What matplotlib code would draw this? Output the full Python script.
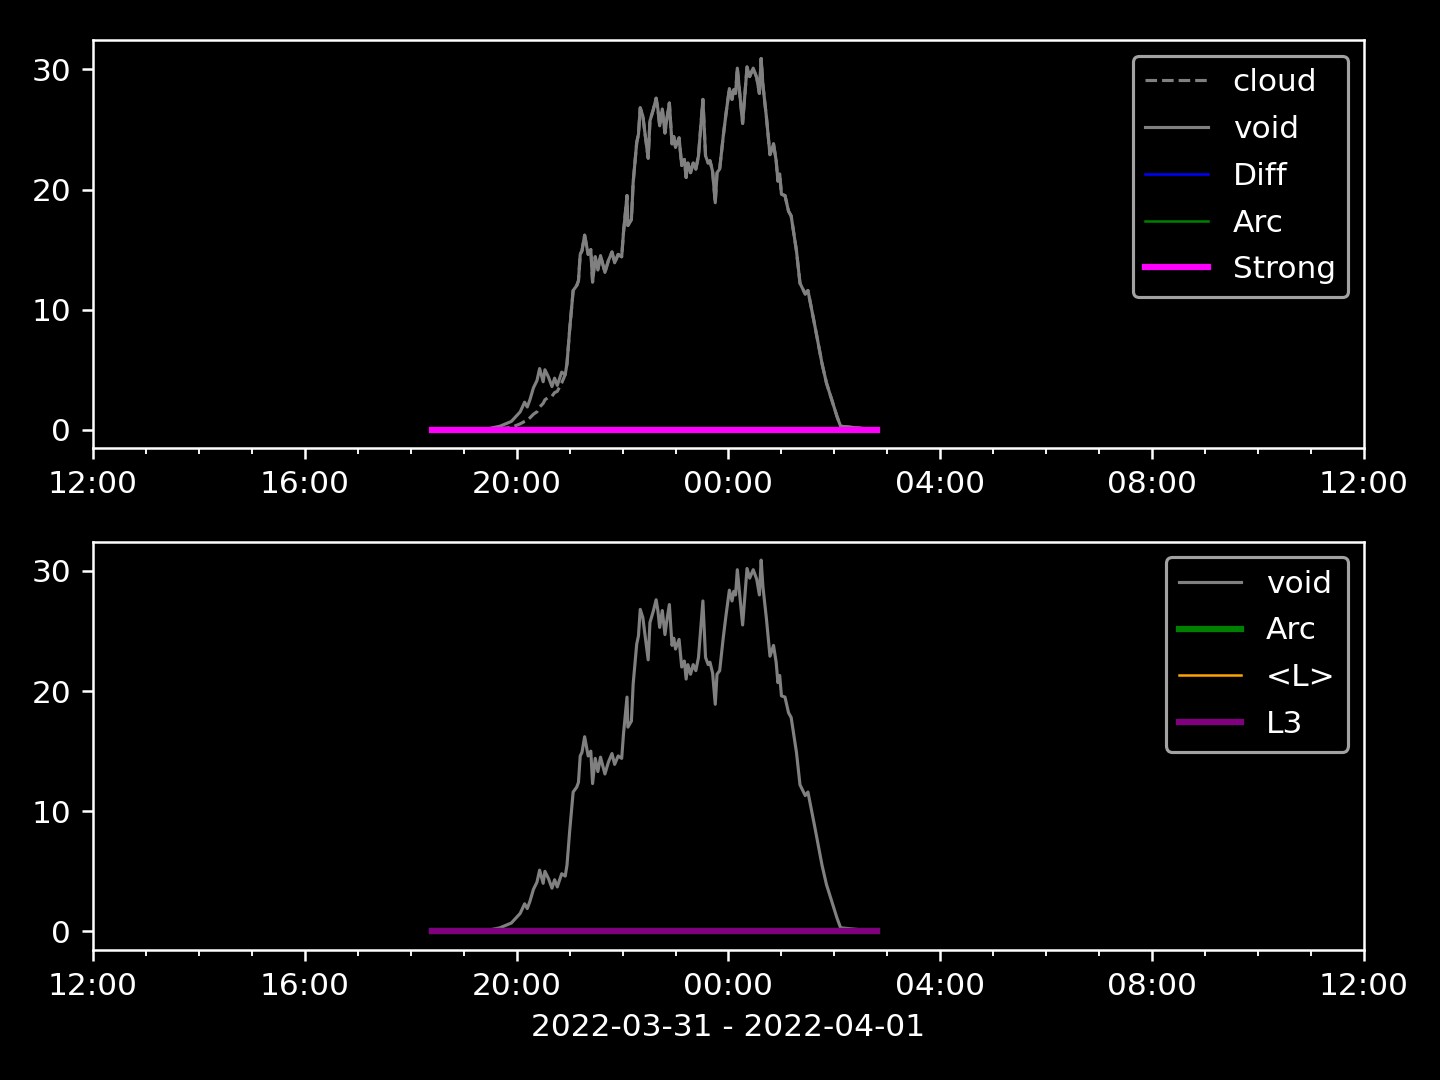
import matplotlib
matplotlib.use("Agg")
import matplotlib.pyplot as plt
import matplotlib.dates as mdates
import pandas as pd

# Flat series span (Strong / Diff / Arc / <L> / L3 sit at zero)
flat_times = ["2022-03-31 18:24", "2022-04-01 02:48"]
flat_values = [0.0, 0.0]

# void trace (clock times, day 1 then day 2)
void_clock = [
    "18:24", "19:28", "19:41", "19:54", "20:04", "20:09", "20:12", "20:15",
    "20:19", "20:23", "20:26", "20:30", "20:32", "20:36", "20:40", "20:43",
    "20:46", "20:51", "20:55", "20:57", "21:00", "21:04", "21:08", "21:10",
    "21:12", "21:14", "21:17", "21:21", "21:24", "21:26", "21:29", "21:32",
    "21:35", "21:40", "21:44", "21:48", "21:51", "21:55", "21:59", "22:01",
    "22:05", "22:06", "22:10", "22:12", "22:16", "22:18", "22:20", "22:23",
    "22:25", "22:29", "22:31", "22:35", "22:38", "22:40", "22:42", "22:45",
    "22:48", "22:50", "22:53", "22:56", "22:58", "23:00", "23:04", "23:07",
    "23:10", "23:12", "23:14", "23:17", "23:20", "23:23", "23:26", "23:31",
    "23:34", "23:37", "23:39", "23:42", "23:45", "23:47", "23:50", "23:54",
    "23:57",
    "00:01", "00:04", "00:06", "00:08", "00:10", "00:13", "00:16", "00:21",
    "00:24", "00:28", "00:32", "00:35", "00:37", "00:39", "00:43", "00:47",
    "00:51", "00:54", "00:56", "00:58", "01:00", "01:04", "01:08", "01:11",
    "01:17", "01:21", "01:27", "01:30", "01:38", "01:46", "01:51", "01:57",
    "02:03", "02:07", "02:48",
]
void_values = [
    0.0, 0.1, 0.3, 0.7, 1.5, 2.3, 1.9, 2.5,
    3.5, 4.1, 5.1, 4.0, 5.0, 4.4, 3.6, 4.3,
    3.7, 4.8, 4.6, 5.5, 8.3, 11.6, 12.0, 12.4,
    14.6, 14.9, 16.2, 14.6, 15.0, 12.3, 14.4, 13.3,
    14.5, 13.1, 14.1, 14.8, 13.9, 14.6, 14.4, 16.4,
    19.5, 17.0, 17.5, 20.6, 23.9, 24.6, 26.8, 26.1,
    24.9, 22.6, 25.7, 26.7, 27.6, 26.7, 25.3, 26.7,
    24.7, 25.8, 27.2, 23.8, 24.4, 23.5, 24.3, 22.0,
    22.5, 21.0, 22.2, 21.4, 22.2, 21.7, 22.8, 27.5,
    22.8, 22.2, 22.4, 21.5, 18.9, 21.4, 21.7, 24.4,
    26.2,
    28.4, 27.5, 28.3, 28.0, 30.1, 27.8, 25.5, 30.2,
    29.4, 30.1, 29.3, 28.0, 30.9, 28.7, 26.0, 22.9,
    23.8, 22.4, 20.7, 21.3, 19.6, 19.5, 18.2, 17.8,
    14.9, 12.2, 11.3, 11.6, 8.6, 5.5, 3.9, 2.5,
    1.1, 0.3, 0.0,
]
# cloud runs below void early in the evening, then follows it
cloud_early = [
    0.0, 0.0, 0.1, 0.2, 0.5, 0.7, 0.8, 1.0,
    1.3, 1.5, 1.9, 2.2, 2.5, 2.7, 2.8, 3.1,
    3.2, 3.9, 4.6,
]

x_start = pd.Timestamp("2022-03-31 12:00")
x_end = pd.Timestamp("2022-04-01 12:00")


def to_times(clock):
    """Turn clock strings into timestamps, rolling over at midnight."""
    stamps = []
    day = pd.Timestamp("2022-03-31")
    prev = None
    for c in clock:
        if prev is not None and c < prev:
            day = day + pd.Timedelta(days=1)
        stamps.append(pd.Timestamp(f"{day.date()} {c}"))
        prev = c
    return stamps


tv = to_times(void_clock)
tf = pd.to_datetime(flat_times)
cloud_values = cloud_early + void_values[len(cloud_early):]

plt.style.use("dark_background")
fig, (ax1, ax2) = plt.subplots(2, 1, figsize=(6.4, 4.8), dpi=225)
fig.subplots_adjust(left=0.0646, right=0.9472, top=0.963, bottom=0.1204, hspace=0.228)

ax1.plot(tv, cloud_values, color="gray", linestyle="--", linewidth=1, label="cloud")
ax1.plot(tv, void_values, color="gray", linewidth=1, label="void")
ax1.plot(tf, flat_values, color="blue", linewidth=0.8, label="Diff")
ax1.plot(tf, flat_values, color="green", linewidth=0.8, label="Arc")
ax1.plot(tf, flat_values, color="magenta", linewidth=2, label="Strong")

ax2.plot(tv, void_values, color="gray", linewidth=1, label="void")
ax2.plot(tf, flat_values, color="green", linewidth=2, label="Arc")
ax2.plot(tf, flat_values, color="orange", linewidth=0.8, label="<L>")
ax2.plot(tf, flat_values, color="purple", linewidth=2, label="L3")

for ax in (ax1, ax2):
    ax.set_xlim(x_start, x_end)
    ax.xaxis.set_major_locator(mdates.HourLocator(byhour=range(0, 24, 4)))
    ax.xaxis.set_minor_locator(mdates.HourLocator())
    ax.xaxis.set_major_formatter(mdates.DateFormatter("%H:%M"))
    ax.legend(loc="upper right", labelspacing=0.57)

ax2.set_xlabel("2022-03-31 - 2022-04-01")
fig.savefig("out.png")
